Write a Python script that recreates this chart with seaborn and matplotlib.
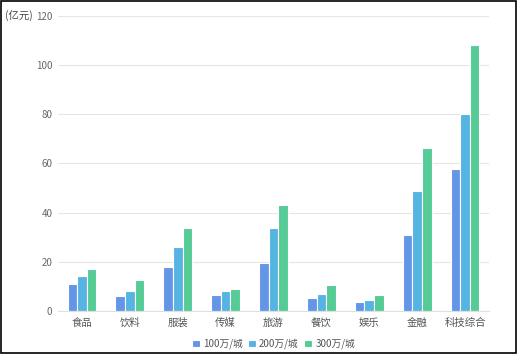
import pandas as pd
import matplotlib
matplotlib.use("Agg")
import matplotlib.pyplot as plt
import seaborn as sns

# 数据
categories = ['食品', '饮料', '服装', '传媒', '旅游', '餐饮', '娱乐', '金融', '科技综合']
series_names = ['100万/城', '200万/城', '300万/城']
v100 = [10.9, 6.2, 17.8, 6.5, 19.5, 5.4, 3.5, 30.9, 57.7]
v200 = [14.2, 8.1, 25.9, 8.1, 33.6, 6.8, 4.5, 48.9, 80.1]
v300 = [17.2, 12.5, 33.9, 8.8, 43.2, 10.4, 6.5, 66.3, 108.2]
colors = ['#6396E6', '#56B4E3', '#55CB95']

df = pd.DataFrame({
    '类别': categories * 3,
    '规模': [s for s in series_names for _ in categories],
    '值': v100 + v200 + v300,
})

sns.set_style('white')
plt.rcParams['font.family'] = ['Noto Sans CJK SC', 'DejaVu Sans']

fig = plt.figure(figsize=(5.18, 3.54), dpi=100)
ax = fig.add_axes([0.112, 0.1215, 0.832, 0.8335])

sns.barplot(data=df, x='类别', y='值', hue='规模', palette=colors, ax=ax,
            width=0.6, edgecolor='white', linewidth=0.8, saturation=1)

ax.set_ylim(0, 120)
ax.set_yticks(range(0, 121, 20))
ax.yaxis.grid(True, color='#e6e6e6', linewidth=0.8)
ax.set_axisbelow(True)
ax.set_xlabel('')
ax.set_ylabel('')
for s in ['top', 'right', 'left']:
    ax.spines[s].set_visible(False)
ax.spines['bottom'].set_color('#e0e0e0')
ax.tick_params(axis='both', length=0, labelsize=7.5, colors='#666666')
ax.tick_params(axis='x', colors='#555555', pad=5)
ax.tick_params(axis='y', pad=4, labelsize=7)

ax.text(-0.058, 1.0, '(亿元)', transform=ax.transAxes, fontsize=7.5,
        color='#444444', va='center', ha='right')

ax.legend(loc='lower center', bbox_to_anchor=(0.5, -0.16), ncol=3,
          frameon=False, fontsize=7, handlelength=0.8, handleheight=0.8,
          handletextpad=0.3, columnspacing=0.6, labelcolor='#555555')

fig.patches.append(plt.Rectangle((0.002, 0.003), 0.995, 0.993,
                                 transform=fig.transFigure, fill=False,
                                 edgecolor='black', linewidth=1.2))

fig.savefig('out.png', dpi=100)
